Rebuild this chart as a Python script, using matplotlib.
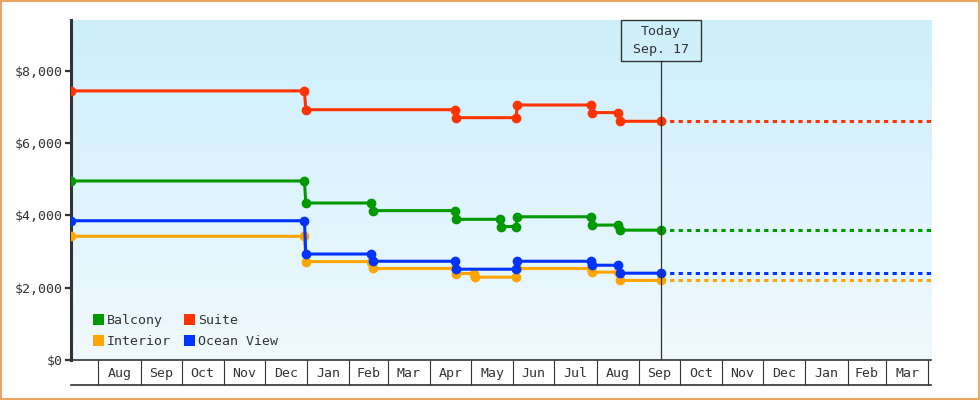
import numpy as np
import pandas as pd
import matplotlib
matplotlib.use("Agg")
import matplotlib.pyplot as plt
import matplotlib.dates as mdates
from matplotlib.patches import Rectangle, Patch
from matplotlib.ticker import FixedLocator, NullFormatter, StrMethodFormatter

# -------------------------------------------------------------------
# Data (price observations, read off the chart)
# -------------------------------------------------------------------
today = "2025-09-17"
today_label = "Today\nSep. 17"

balcony_dates = ["2024-07-12", "2024-12-30", "2024-12-31", "2025-02-17", "2025-02-18",
                 "2025-04-19", "2025-04-20", "2025-05-22", "2025-05-23", "2025-06-03",
                 "2025-06-04", "2025-07-28", "2025-07-29", "2025-08-17", "2025-08-18",
                 today]
balcony_prices = [4950, 4950, 4340, 4340, 4130, 4130, 3890, 3890, 3690, 3690,
                  3960, 3960, 3730, 3730, 3590, 3590]

suite_dates = ["2024-07-12", "2024-12-30", "2024-12-31", "2025-04-19", "2025-04-20",
               "2025-06-03", "2025-06-04", "2025-07-28", "2025-07-29", "2025-08-17",
               "2025-08-18", today]
suite_prices = [7440, 7440, 6920, 6920, 6700, 6700, 7050, 7050, 6840, 6840, 6600, 6600]

interior_dates = ["2024-07-12", "2024-12-30", "2024-12-31", "2025-02-17", "2025-02-18",
                  "2025-04-19", "2025-04-20", "2025-05-03", "2025-05-04", "2025-06-03",
                  "2025-06-04", "2025-07-28", "2025-07-29", "2025-08-17", "2025-08-18",
                  today]
interior_prices = [3420, 3420, 2720, 2720, 2530, 2530, 2390, 2390, 2290, 2290,
                   2530, 2530, 2430, 2430, 2200, 2200]

ocean_dates = ["2024-07-12", "2024-12-30", "2024-12-31", "2025-02-17", "2025-02-18",
               "2025-04-19", "2025-04-20", "2025-06-03", "2025-06-04", "2025-07-28",
               "2025-07-29", "2025-08-17", "2025-08-18", today]
ocean_prices = [3850, 3850, 2930, 2930, 2730, 2730, 2510, 2510, 2730, 2730,
                2620, 2620, 2400, 2400]

series = [
    ("Balcony", balcony_dates, balcony_prices, "#009900"),
    ("Interior", interior_dates, interior_prices, "#ffa500"),
    ("Suite", suite_dates, suite_prices, "#ff3300"),
    ("Ocean View", ocean_dates, ocean_prices, "#0033ff"),
]
draw_order = ["Interior", "Suite", "Balcony", "Ocean View"]

x_start = pd.Timestamp("2024-07-12")
x_end = pd.Timestamp("2026-04-03")
y_max = 9400

# -------------------------------------------------------------------
# Style
# -------------------------------------------------------------------
plt.rcParams["font.family"] = ["DejaVu Sans Mono"]
plt.rcParams["font.size"] = 9.5
INK = "#333333"

fig = plt.figure(figsize=(9.8, 4.0), dpi=100)
ax = fig.add_axes([71 / 980, 40 / 400, 860 / 980, 340 / 400])

# gradient background
grad = np.linspace(0, 1, 256).reshape(-1, 1)
cmap = matplotlib.colors.LinearSegmentedColormap.from_list("bg", ["#cdeffc", "#f0f9fe"])
ax.imshow(grad, extent=[0, 1, 0, 1], transform=ax.transAxes, cmap=cmap,
          aspect="auto", zorder=0)

# -------------------------------------------------------------------
# Lines
# -------------------------------------------------------------------
lookup = {name: (d, p, c) for name, d, p, c in series}
for name in draw_order:
    d, p, c = lookup[name]
    d = pd.to_datetime(d)
    ax.plot(d, p, color=c, lw=2.2, marker="o", ms=6, mec=c, zorder=3,
            solid_capstyle="butt")
    ax.plot([d[-1], x_end], [p[-1], p[-1]], color=c, lw=2.2,
            dashes=(1.4, 1.4), zorder=3)

ax.set_xlim(x_start, x_end)
ax.set_ylim(0, y_max)

# -------------------------------------------------------------------
# Axes decoration
# -------------------------------------------------------------------
for side in ("top", "right"):
    ax.spines[side].set_visible(False)
ax.spines["left"].set_linewidth(2.2)
ax.spines["left"].set_color(INK)
ax.spines["bottom"].set_linewidth(1.2)
ax.spines["bottom"].set_color(INK)

ax.set_yticks([0, 2000, 4000, 6000, 8000])
ax.yaxis.set_major_formatter(StrMethodFormatter("${x:,.0f}"))
ax.tick_params(axis="y", length=4, width=1.6, color=INK, labelcolor=INK, pad=2)

month_starts = pd.date_range("2024-08-01", "2026-04-01", freq="MS")
mids = month_starts[:-1] + (month_starts[1:] - month_starts[:-1]) / 2
ax.xaxis.set_major_locator(FixedLocator(mdates.date2num(month_starts)))
ax.xaxis.set_major_formatter(NullFormatter())
ax.xaxis.set_minor_locator(FixedLocator(mdates.date2num(mids)))
ax.set_xticks(mdates.date2num(mids), [m.strftime("%b") for m in mids], minor=True)
ax.tick_params(axis="x", which="major", length=18, width=0.8, color=INK)
ax.tick_params(axis="x", which="minor", length=0, pad=5, labelcolor=INK)
ax.plot([0, 1], [-25 / 340, -25 / 340], transform=ax.transAxes, color=INK,
        lw=1.2, clip_on=False)

# today marker
tx = (mdates.date2num(pd.Timestamp(today)) - mdates.date2num(x_start)) / \
     (mdates.date2num(x_end) - mdates.date2num(x_start))
box_w = 80 / 860
box_b = 1 - 41 / 340
ax.plot([tx, tx], [0, box_b], transform=ax.transAxes, color=INK, lw=0.9, zorder=4)
ax.add_patch(Rectangle((tx - box_w / 2, box_b), box_w, 1 - box_b,
                       transform=ax.transAxes, fill=False, ec=INK, lw=1.0,
                       clip_on=False, zorder=4))
ax.text(tx, box_b + (1 - box_b) / 2, today_label, transform=ax.transAxes,
        ha="center", va="center", color=INK, linespacing=1.45, zorder=5)

# legend
handles = [Patch(facecolor=c, edgecolor="none", label=n) for n, _, _, c in series]
ax.legend(handles=handles, ncol=2, loc="lower left", bbox_to_anchor=(0.012, 0.0),
          frameon=False, handlelength=0.85, handleheight=0.85, handletextpad=0.2,
          columnspacing=1.0, labelspacing=0.6, labelcolor=INK)

# orange frame around the whole picture
fig.patches.append(Rectangle((0.001, 0.002), 0.998, 0.996, transform=fig.transFigure,
                             fill=False, ec="#e8a862", lw=1.5))

fig.savefig("out.png", dpi=100)
